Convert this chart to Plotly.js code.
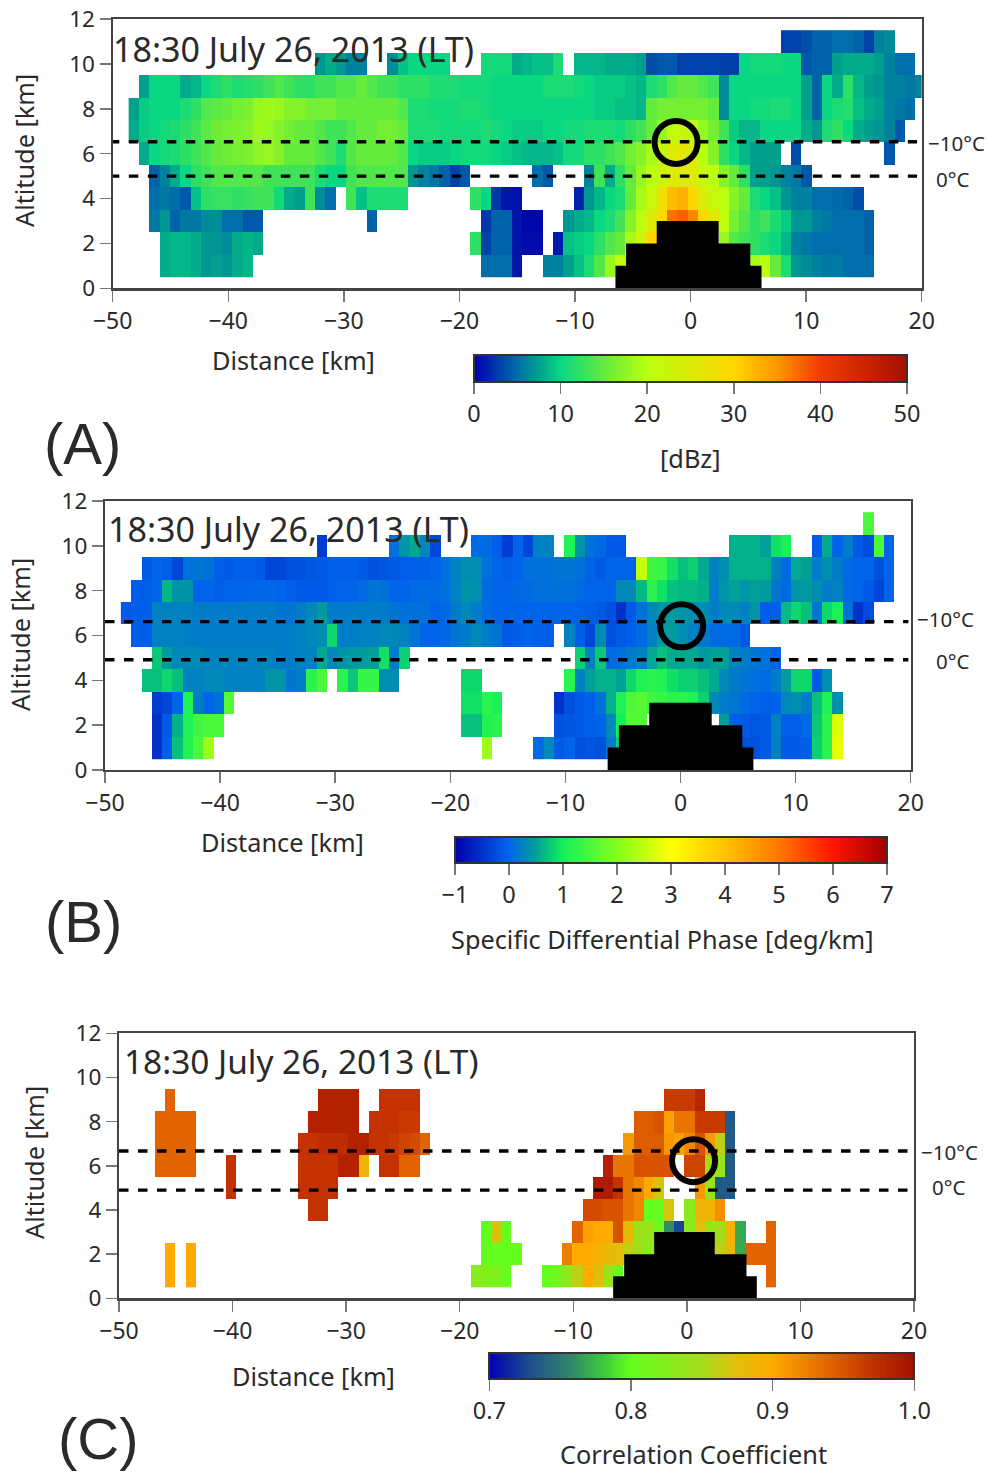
<!DOCTYPE html>
<html><head><meta charset="utf-8">
<script src="https://cdn.plot.ly/plotly-3.0.1.min.js"></script>
<style>html,body{margin:0;padding:0;background:#fff}#c{width:989px;height:1472px}</style>
</head><body><div id="c"></div>
<script>
// Each row: altitude row (km), list of segments [first column, values...]
const dbz11=[[63,3,3,3.5,4.5,4.5,5,5,4.5,3,6,6.5]];
const dbz10=[[18,7,8,7,6,6],[25,6.5,9,10,10,10,10],[34,10.5,10.5,10.5,8,8.5,9,9,11],[43,8.5,8.5,8.5,8,8,8,7.5,3.5,4,4,3,3,3,3,2.8,2.8,10,10.5,10.5,10.5,10,10,4,4.5,4.5,7.5,8,8,8,7.5,6,5,5]];
const dbz9=[[1,7.5,10,10,10,8,8.5,10,11,12,11,11.5,12,13,14,13,12,12,13,13,14,14,15,14,13,13,12,12,12,11,11,11,10.5,10.5,10.5,10,10,10,10,10,11,11,11,10.5,10,9.5,9.5,9.5,9,8.5,11,12,14,15,15,14,13,6.5,10,10,10,10,10,10,10,7.5,4.5,10,8,12,8.5,7.5,7,6,6,5.5,6]];
const dbz8=[[0,7.5,9.5,10,10,10,11,12,14,14.5,15,16,16.5,18,18.5,18,17,17,16,16,16,15,15,15,15,15,15,14,11,11,10.5,10.5,10.5,11,11,10.5,10,10,10,10,10,10,10,10,10,10,9.5,9.5,9,9,8.5,15,16,16,16,16,16,15,6.5,10,10,10.5,10.5,11,11,10,7.5,4.5,10,11,11.5,9,8,7.5,6,5.5,5]];
const dbz7=[[0,8,9.5,10,10.5,11,12,13,14.5,15.5,16,16.5,17,18.5,18,17,16,15,15,14,13,13,14,15,15,16,16,15,11,11,11,10.5,10.5,10.5,10.5,11,10.5,10,9.5,9.5,9.5,10,10,10.5,10.5,11,11,11,10.5,12,13,15,18,21,22,21,18,16,13,9.5,8.5,8.5,10,10,10,10,8,7,11,12,10,8,7.5,7,6,4]];
const dbz6=[[1,8,10,10.5,11,12,13,14,15,15.5,16,16.5,17.5,18,17,15,15,15,14,13,11,14,15,15,15,15,14,10,9.5,9.5,9.5,10,10.5,10.5,10.5,10,9.5,9,8.5,8.5,8.5,9,10.5,10.5,12,12,13,14,16,17,19,22,25,26,25,20,17,12,10,8.5,7.5,7.5,7.5],[64,3.5],[73,4]];
const dbz5=[[2,4.5,6,8,10,12,13,14,14,14,14,14,13,13,13,13,13,11,10,10,13,14,14,14,14,14,7,6,5.5,4.5,3,4],[39,5,4],[44,6,13,8,12,15,18,20,23,25,25,25,22,20,17,15,12,7.5,7.5,7,6,5.5,4]];
const dbz4=[[2,5,5.5,5,4,9,12,12.5,12.5,12,12.5,13,13,10.5,8,7.5,13,6.5,5],[21,13,9,11,11,11,11],[33,12,10,2.5,1,0.8],[43,1.5,7,8.5,10,11,15,19,22,28,32,33,30,25,22,20,17,15,11,10,9,7,6,6,5,5,4.8,4.5,3.5]];
const dbz3=[[2,5.5,7,4.5,5.5,5.5,6.5,6.5,5,5,4,4],[23,4.5],[34,2.5,4.5,4.5,1,0.3,0.3],[42,7,8,8.5,10,11,13,17,20,25,30,37,38,36,30,26,21,16,14,12,13,11,9.5,7,7,6,5.5,5,5,5,4.5]];
const dbz2=[[3,8,8.5,8.5,8,7,7,6.5,8,8.5,8],[33,12,3,4.5,4.5,1,0.5,0.5],[41,1.2,9,9.5,10,12,14,15,19,22,30,33],[57,18,14,13,12,11,10,8.5,6,5.5,5,5,5,5,5,4.5]];
const dbz1=[[3,8,8.5,8.5,8,7,7.5,7,8,8.5],[34,5,5,5,1],[40,6,6,7.5,9,11,14,18,21,21],[60,19,20,15,11,7,6.5,6,5.5,5.5,5,5,5]];

const kdp11=[[72,1.5]];
const kdp10=[[19,-0.4],[26,0.1,0.4,0.55,0.3,-0.3],[34,0.05,0.05,-0.05,-0.4,0,-0.3,0.25,0.25],[43,1.1,0.4,0.1,0.05,-0.1,-0.1],[59,0.6,0.6,0.6,0.5,0.9,1.05],[67,-0.1,0.55,0,0.2,-0.1,-0.25,1.5,0]];
const kdp9=[[2,-0.1,0,-0.05,-0.3,0.1,0.15,0.1,-0.05,-0.1,-0.05,-0.05,-0.1,-0.3,-0.3,-0.2,-0.2,-0.15,-0.1,-0.05,-0.05,-0.05,-0.1,-0.2,-0.15,-0.1,-0.05,-0.05,-0.05,0,0.1,0.25,0.35,0.35,0.1,0,-0.05,0,0.1,0.1,0.1,0.15,0.15,0.1,0,-0.1,0,0,0,2.5,1.4,1.3,0.9,0.7,0.8,0.55,0.25,0.35,0.6,0.6,0.6,0.6,0.25,0.05,0.55,0.5,0.2,0.35,0.2,0.05,0,0,-0.2,0]];
const kdp8=[[1,-0.05,-0.05,0,0.65,0.4,0.4,0,0,-0.05,0,0,0.02,0.03,0.03,0,-0.05,-0.1,-0.1,-0.1,-0.05,0,0,0.05,0.15,0.1,0,0,0.05,0.05,0.05,0.1,0.25,0.4,0.35,0.05,0,0,0.05,0.05,0.1,0.1,0.1,0.1,0.05,0,0,0,0.3,0.3,0.65,1.2,0.9,0.7,0.65,0.65,0.6,0.2,0.4,0.5,0.4,0.5,0.45,0.15,0.05,0.4,0.45,0.35,0.2,0.25,0.05,0,-0.1,-0.3,0]];
const kdp7=[[0,-0.1,-0.05,-0.05,0.25,0.25,0.25,0.25,0.2,0.2,0.2,0.2,0.2,0.2,0.2,0.2,0.15,0.15,0.2,0.3,0.45,0.2,0.2,0.2,0.2,0.2,0.2,0.15,0.1,0.1,0.1,0,0.05,0.2,0.3,0.2,0.05,0,0,0,0,0,0,0,0,0,-0.05,-0.1,-0.2,-0.5,-0.1,0.1,0.3,0.4,0.45,0.4,0.35,0.35,0.2,0.3,0.3,0.25,0.4,-0.05,-0.05,0.65,0.85,0.7,0.15,0.85,1.05,0.1,-0.5,-0.25]];
const kdp6=[[1,-0.05,-0.05,0.25,0.25,0.25,0.2,0.2,0.2,0.2,0.2,0.2,0.2,0.2,0.2,0.2,0.2,0.25,0.3,0.35,0.85,0.2,0.2,0.25,0.25,0.3,0.3,0.25,0.15,0,0,0.05,0.15,0.2,0.3,0.2,0.15,-0.1,-0.05,0,-0.05,-0.05],[43,0.25,-0.05,-0.3,0.35,-0.2,-0.1,-0.05,0.05,0.25,0.45,0.45,0.35,0.25,0.15,0.05,0.05,0.05,-0.1]];
const kdp5=[[3,0.75,0.45,0.3,0.3,0.3,0.25,0.25,0.25,0.25,0.25,0.25,0.25,0.2,0.2,0.25,0.25,0.55,0.3,0.4,0.45,0.45,0.5,0.9,0.2,0.8],[44,0.8,0.25,0.75,0.05,0.1,0.2,0.25,0.55,0.7,0.55,0.55,0.55,0.45,0.5,0.5,0.25,0.2,0.15,0.1,0]];
const kdp4=[[2,0.7,0.7,0.85,0.7,0.25,0.25,0.3,0.3,0.25,0.25,0.25,0.25,0.4,0.4,0.15,0.2,1.2,1.5],[21,1.2,0.75,1.3,1.3,0.35,0.35],[33,0.85,0.85],[43,1.2,0.25,0.5,0.6,0.6,0.5,0.85,1.1,1.2,1.1,0.9,0.8,0.8,0.7,0.55,0.3,0.2,0.15,0.1,0.05,0.2,0.45,0.85,0.85,-0.1,0.35]];
const kdp3=[[3,-0.4,-0.3,0,1.1,0.2,0,0.1,1.6],[33,0.9,0.9,1.2,1.05],[42,-0.5,-0.2,-0.1,-0.05,0.1,0.6,1.1,1.5,1.6,1.4,1.3,1.2,1.2,1.1,0.8,0.3,0.2,0.15,0.05,0,-0.05,0,0.3,0.35,0.2,0.7,1.05,0.35]];
const kdp2=[[3,-0.5,-0.1,0.6,1.1,1.4,1.5,1.5],[33,0.7,0.7,1.1,1.2],[42,-0.2,-0.15,-0.1,-0.05,0,0.3,1,1.6,1.6],[58,0.45,-0.05,-0.1,-0.15,-0.1,0.25,-0.05,-0.05,0.05,0.75,1.2,2.7]];
const kdp1=[[3,-0.5,-0.05,0.7,1.15,1.5,2.2],[35,2.2],[40,0.05,0.3,-0.1,0,-0.2,-0.15,-0.2,0.2,0.8],[60,-0.2,-0.2,-0.1,0.25,-0.1,-0.1,-0.05,0.8,1.2,2.8]];

const rho9=[[3,0.94],[18,0.985,0.985,0.985,0.985],[24,0.97,0.97,0.97,0.97],[52,0.965,0.965,0.965,0.98]];
const rho8=[[2,0.94,0.94,0.94,0.94],[17,0.985,0.985,0.985,0.985,0.985],[23,0.97,0.97,0.97,0.965,0.965],[49,0.945,0.945,0.95,0.905,0.93,0.93,0.965,0.965,0.965,0.735]];
const rho7=[[2,0.94,0.94,0.94,0.94],[16,0.97,0.97,0.975,0.975,0.975,0.985,0.985],[23,0.97,0.97,0.965,0.96,0.955,0.94],[48,0.91,0.945,0.945,0.945,0.91,0.905,0.92,0.95,0.91,0.86,0.735]];
const rho6=[[2,0.94,0.94,0.94,0.94],[9,0.97],[16,0.97,0.97,0.97,0.97,0.985,0.985,0.885],[24,0.97,0.97,0.94,0.94],[46,0.985,0.93,0.93,0.95,0.95,0.95,0.95],[54,0.96,0.96,0.85,0.84,0.735]];
const rho5=[[9,0.97],[16,0.97,0.97,0.97,0.97],[45,0.99,0.99,0.97,0.93,0.92,0.9,0.87],[55,0.91,0.84,0.735,0.735]];
const rho4=[[17,0.97,0.97],[44,0.955,0.955,0.95,0.95,0.93,0.92,0.8,0.8,0.87],[54,0.83,0.885,0.89,0.915]];
const rho3=[[34,0.8,0.87,0.8],[43,0.94,0.905,0.9,0.9,0.95,0.88,0.84,0.84,0.81,0.76,0.725,0.83,0.875,0.84,0.85,0.89,0.77],[62,0.94]];
const rho2=[[3,0.9],[5,0.9],[34,0.8,0.8,0.8,0.8],[42,0.925,0.9,0.9,0.89,0.88,0.875,0.86,0.85,0.83],[57,0.86,0.88,0.77,0.94,0.94,0.94]];
const rho1=[[3,0.9],[5,0.9],[33,0.83,0.82,0.82,0.8],[40,0.8,0.81,0.83,0.86,0.9,0.875,0.84,0.8],[62,0.94]];

const dbzTicks=[0,10,20,30,40,50];
const kdpTicks=[-1,0,1,2,3,4,5,6,7];
const rhoTicks=[0.7,0.8,0.9,1.0];
const xTicks=[-50,-40,-30,-20,-10,0,10,20];
const yTicks=[0,2,4,6,8,10,12];

const terrainXA=[-6.5,-5.58,-2.93,2.43,5.17,6.14], terrainXB=[-6.33,-5.35,-2.72,2.71,5.37,6.33], terrainXC=[-6.49,-5.52,-2.88,2.46,5.25,6.16];
const terrainH=[1,2,3,2,1,0];
const isoA=[6.53,5.0], isoB=[6.62,4.92], isoC=[6.67,4.9];
const markA=[-1.25,6.5], markB=[0.1,6.43], markC=[0.59,6.23];
const timeLabel='18:30 July 26, 2013 (LT)';

const dbzStops=[[0,'rgb(0,0,170)'],[5,'rgb(0,110,170)'],[7.5,'rgb(0,160,140)'],[10,'rgb(10,215,130)'],[15,'rgb(100,235,60)'],[20,'rgb(185,255,15)'],[30,'rgb(255,215,0)'],[35,'rgb(255,150,0)'],[40,'rgb(240,60,0)'],[50,'rgb(165,15,0)']];
const kdpStops=[[-1,'rgb(0,0,170)'],[0,'rgb(0,100,235)'],[0.5,'rgb(0,160,150)'],[1,'rgb(20,240,90)'],[2,'rgb(130,255,30)'],[3,'rgb(255,255,0)'],[4,'rgb(255,195,0)'],[5,'rgb(255,120,0)'],[6,'rgb(255,20,0)'],[7,'rgb(160,0,0)']];
const rhoStops=[[0.7,'rgb(0,0,180)'],[0.73,'rgb(30,80,140)'],[0.76,'rgb(50,140,100)'],[0.78,'rgb(60,200,60)'],[0.8,'rgb(100,255,30)'],[0.85,'rgb(165,220,25)'],[0.875,'rgb(225,190,10)'],[0.9,'rgb(255,170,0)'],[0.94,'rgb(225,100,0)'],[0.97,'rgb(195,50,0)'],[1,'rgb(165,15,0)']];

const W=989,H=1472,COLS=77,X0=-48.62,DX=0.896;
const FONT='"Noto Sans", sans-serif', TAGFONT='"Liberation Sans", sans-serif', INK='#2a2a2a';
const edgesX=[];for(let i=0;i<=COLS;i++)edgesX.push(X0+i*DX);
const edgesY=[];for(let i=0;i<=11;i++)edgesY.push(0.5+i);

function grid(rows){
  return rows.map(segs=>{
    const r=new Array(COLS).fill(null);
    segs.forEach(s=>{for(let i=1;i<s.length;i++)r[s[0]+i-1]=s[i];});
    return r;
  });
}
function scale(st){const a=st[0][0],b=st[st.length-1][0];return st.map(s=>[(s[0]-a)/(b-a),s[1]]);}
const px=x=>x/W, py=y=>1-y/H;

const panels=[
 {rows:[dbz1,dbz2,dbz3,dbz4,dbz5,dbz6,dbz7,dbz8,dbz9,dbz10,dbz11],st:dbzStops,ticks:dbzTicks,fmt:'d',box:[112.7,921.7,19,288.3],bar:[474,906.7,355,381.7],tx:terrainXA,iso:isoA,mark:markA,isoX:[-50.25,19.6],
  t:[112,49,34],m10:[927,143],m0:[935,179],dist:[293,360],cb:[690,458,'[dBz]'],tag:[43,443,'(A)'],alt:[24,151]},
 {rows:[kdp1,kdp2,kdp3,kdp4,kdp5,kdp6,kdp7,kdp8,kdp9,kdp10,kdp11],st:kdpStops,ticks:kdpTicks,fmt:'d',box:[105,910.7,501,770],bar:[455,887.3,836.7,862.7],tx:terrainXB,iso:isoB,mark:markB,isoX:[-50,19.8],
  t:[107,529,34],m10:[916,619],m0:[935,661],dist:[282,842],cb:[662,939,'Specific Differential Phase [deg/km]'],tag:[44,921,'(B)'],alt:[20,635]},
 {rows:[rho1,rho2,rho3,rho4,rho5,rho6,rho7,rho8,rho9,[],[]],st:rhoStops,ticks:rhoTicks,fmt:'.1f',box:[119,914,1033.3,1298.3],bar:[489.3,914,1353,1379.3],tx:terrainXC,iso:isoC,mark:markC,isoX:[-50,19.8],
  t:[123,1061,33.4],m10:[920,1152],m0:[931,1187],dist:[313,1376],cb:[693,1454,'Correlation Coefficient'],tag:[57,1438,'(C)'],alt:[34,1163]}
];

const traces=[],ann=[];
const layout={width:W,height:H,margin:{l:0,r:0,t:0,b:0,autoexpand:false},paper_bgcolor:'#fff',plot_bgcolor:'#fff',showlegend:false,font:{family:FONT,color:INK},annotations:ann};
function note(x,y,text,size,anchor,angle,fam){ann.push({xref:'paper',yref:'paper',x:px(x),y:py(y),text,showarrow:false,xanchor:anchor||'center',yanchor:'middle',textangle:angle||0,font:{family:fam||FONT,size,color:INK},borderpad:0});}

panels.forEach((p,i)=>{
  const n=i?String(i+1):'', xa='x'+n, ya='y'+n;
  layout['xaxis'+n]={domain:[px(p.box[0]),px(p.box[1])],range:[-50,20],anchor:ya,tickmode:'array',tickvals:xTicks,ticks:'outside',ticklen:11,tickwidth:1.5,tickcolor:'#777',showline:true,linewidth:2.2,linecolor:'#444',mirror:true,showgrid:false,zeroline:false,tickfont:{family:FONT,size:23,color:INK}};
  layout['yaxis'+n]={domain:[py(p.box[3]),py(p.box[2])],range:[0,12],anchor:xa,tickmode:'array',tickvals:yTicks,ticksuffix:'\u00a0',ticks:'outside',ticklen:11,tickwidth:1.5,tickcolor:'#777',showline:true,linewidth:2.2,linecolor:'#444',mirror:true,showgrid:false,zeroline:false,tickfont:{family:FONT,size:22.5,color:INK}};
  const lo=p.st[0][0],hi=p.st[p.st.length-1][0];
  traces.push({type:'heatmap',x:edgesX,y:edgesY,z:grid(p.rows),xaxis:xa,yaxis:ya,zmin:lo,zmax:hi,colorscale:scale(p.st),hoverinfo:'skip',
    colorbar:{orientation:'h',lenmode:'pixels',len:p.bar[1]-p.bar[0],thicknessmode:'pixels',thickness:p.bar[3]-p.bar[2],x:px(p.bar[0]),xanchor:'left',y:py(p.bar[2]),yanchor:'top',xpad:0,ypad:0,outlinewidth:2,outlinecolor:'#333',tickmode:'array',tickvals:p.ticks,tickformat:p.fmt,ticks:'outside',ticklen:11,tickwidth:1.5,tickcolor:'#777',tickfont:{family:FONT,size:23.5,color:INK}}});
  traces.push({type:'scatter',mode:'lines',x:p.tx,y:terrainH,xaxis:xa,yaxis:ya,line:{shape:'hv',width:0,color:'#000'},fill:'tozeroy',fillcolor:'#000',hoverinfo:'skip'});
  p.iso.forEach(v=>traces.push({type:'scatter',mode:'lines',x:p.isoX,y:[v,v],xaxis:xa,yaxis:ya,cliponaxis:false,line:{color:'#000',width:3.4,dash:'9.5px,9.5px'},hoverinfo:'skip'}));
  traces.push({type:'scatter',mode:'markers',x:[p.mark[0]],y:[p.mark[1]],xaxis:xa,yaxis:ya,marker:{symbol:'circle-open',size:43,color:'#000',line:{width:6,color:'#000'}},hoverinfo:'skip'});
  note(p.t[0],p.t[1],timeLabel,p.t[2],'left');
  note(p.m10[0],p.m10[1],'−10°C',20.5,'left');
  note(p.m0[0],p.m0[1],'0°C',20.5,'left');
  note(p.dist[0],p.dist[1],'Distance [km]',25.3);
  note(p.cb[0],p.cb[1],p.cb[2],25.3);
  note(p.tag[0],p.tag[1],p.tag[2],58,'left',0,TAGFONT);
  note(p.alt[0],p.alt[1],'Altitude [km]',25.3,'center',-90);
});
Plotly.newPlot('c',traces,layout,{displayModeBar:false,staticPlot:true});
</script></body></html>
